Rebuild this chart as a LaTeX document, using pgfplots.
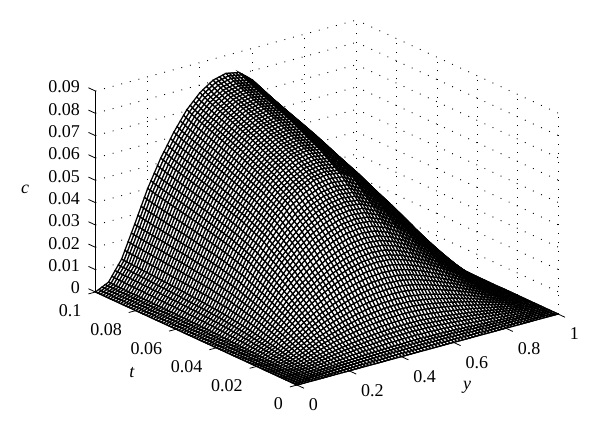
\documentclass[border=0pt]{standalone}
\usepackage{fontspec}
\setmainfont{Liberation Serif}
\usepackage{pgfplots}
\pgfplotsset{compat=1.18}
\usepgfplotslibrary{patchplots}
\pagestyle{empty}
\begin{document}
\begin{tikzpicture}[x=1pt,y=1pt]
\path[use as bounding box] (-297,-52) rectangle (303,385);
\begin{axis}[
  anchor=origin, at={(0,0)}, disabledatascaling,
  x={(261pt,71pt)}, y={(-2015pt,930pt)}, z={(0pt,2233pt)},
  xmin=0,xmax=1,ymin=0,ymax=0.1,zmin=0,zmax=0.09,
  xtick={0,0.2,0.4,0.6,0.8,1},
  ytick={0,0.02,0.04,0.06,0.08,0.1},
  ztick={0,0.01,0.02,0.03,0.04,0.05,0.06,0.07,0.08,0.09},
  xticklabels={0,0.2,0.4,0.6,0.8,1},
  yticklabels={0,0.02,0.04,0.06,0.08,0.1\hspace{-4pt}},
  zticklabels={0,0.01,0.02,0.03,0.04,0.05,0.06,0.07,0.08,0.09},
  scaled x ticks=false, scaled y ticks=false, scaled z ticks=false,
  tick label style={font=\fontsize{18}{20}\selectfont, inner sep=0pt, outer sep=0pt},
  x tick label style={anchor=west, xshift=12pt, yshift=-20pt},
  y tick label style={anchor=east, xshift=-14pt, yshift=-19pt},
  z tick label style={anchor=east, xshift=-15.5pt, yshift=4pt},
  grid=major,
  major grid style={black, line width=0.9pt, dash pattern=on 0.9pt off 8pt},
  axis line style={draw=none},
  major tick length=0pt,
  major tick style={draw=none},
  clip=false,
  colormap={bw}{color(0)=(white) color(1)=(white)},
]
\addplot3[surf, shader=faceted, faceted color=black, line width=1.25pt,
  mesh/rows=21, mesh/cols=21, mesh/ordering=x varies,
  patch type=bilinear, patch refines=2]
 table[header=false, x expr={mod(\coordindex,21)/20}, y expr={floor((\coordindex+0.5)/21)*0.005}, z index=0] {
0
0
0
0
0
0
0
0
0
0
0
0
0
0
0
0
0
0
0
0
0
0
0.0001
0.0003
0.0008
0.0012
0.0016
0.0019
0.0021
0.0023
0.0024
0.0025
0.0024
0.0023
0.0021
0.0018
0.0015
0.0012
0.0009
0.0005
0.0002
0
0
0.0003
0.0010
0.0023
0.0036
0.0047
0.0056
0.0063
0.0069
0.0072
0.0074
0.0073
0.0068
0.0062
0.0054
0.0046
0.0036
0.0026
0.0016
0.0006
0
0
0.0005
0.0020
0.0043
0.0068
0.0088
0.0105
0.0120
0.0130
0.0137
0.0139
0.0137
0.0129
0.0117
0.0103
0.0087
0.0069
0.0049
0.0030
0.0012
0
0
0.0007
0.0030
0.0066
0.0104
0.0135
0.0161
0.0183
0.0199
0.0209
0.0213
0.0210
0.0198
0.0179
0.0157
0.0133
0.0105
0.0075
0.0046
0.0018
0
0
0.0010
0.0040
0.0089
0.0140
0.0182
0.0217
0.0247
0.0268
0.0282
0.0287
0.0283
0.0266
0.0242
0.0212
0.0179
0.0142
0.0102
0.0061
0.0025
0
0
0.0012
0.0049
0.0110
0.0172
0.0224
0.0267
0.0303
0.0329
0.0346
0.0353
0.0347
0.0327
0.0297
0.0260
0.0219
0.0174
0.0125
0.0075
0.0030
0
0
0.0014
0.0059
0.0130
0.0204
0.0265
0.0316
0.0360
0.0390
0.0411
0.0418
0.0412
0.0388
0.0352
0.0309
0.0260
0.0207
0.0148
0.0089
0.0036
0
0
0.0016
0.0067
0.0148
0.0232
0.0302
0.0360
0.0409
0.0444
0.0467
0.0476
0.0469
0.0441
0.0400
0.0351
0.0296
0.0235
0.0168
0.0102
0.0041
0
0
0.0018
0.0074
0.0163
0.0256
0.0333
0.0397
0.0451
0.0490
0.0515
0.0525
0.0517
0.0486
0.0442
0.0387
0.0326
0.0259
0.0186
0.0112
0.0045
0
0
0.0020
0.0081
0.0179
0.0280
0.0364
0.0434
0.0494
0.0536
0.0564
0.0574
0.0566
0.0532
0.0483
0.0424
0.0357
0.0284
0.0203
0.0123
0.0049
0
0
0.0021
0.0085
0.0189
0.0296
0.0385
0.0459
0.0522
0.0566
0.0596
0.0607
0.0598
0.0562
0.0511
0.0448
0.0377
0.0300
0.0215
0.0130
0.0052
0
0
0.0022
0.0090
0.0199
0.0312
0.0406
0.0484
0.0550
0.0597
0.0628
0.0640
0.0630
0.0593
0.0538
0.0472
0.0398
0.0316
0.0226
0.0137
0.0055
0
0
0.0023
0.0093
0.0207
0.0324
0.0421
0.0502
0.0571
0.0620
0.0652
0.0664
0.0654
0.0616
0.0559
0.0490
0.0413
0.0328
0.0235
0.0142
0.0057
0
0
0.0024
0.0097
0.0214
0.0336
0.0437
0.0521
0.0592
0.0643
0.0676
0.0689
0.0679
0.0638
0.0580
0.0508
0.0428
0.0340
0.0244
0.0147
0.0059
0
0
0.0024
0.0100
0.0222
0.0348
0.0452
0.0539
0.0613
0.0666
0.0700
0.0713
0.0703
0.0661
0.0600
0.0526
0.0444
0.0352
0.0252
0.0152
0.0061
0
0
0.0025
0.0103
0.0228
0.0358
0.0465
0.0555
0.0631
0.0685
0.0720
0.0734
0.0723
0.0680
0.0618
0.0541
0.0456
0.0362
0.0260
0.0157
0.0063
0
0
0.0026
0.0106
0.0235
0.0368
0.0478
0.0570
0.0649
0.0704
0.0741
0.0754
0.0743
0.0699
0.0635
0.0557
0.0469
0.0373
0.0267
0.0161
0.0064
0
0
0.0026
0.0109
0.0241
0.0378
0.0491
0.0586
0.0666
0.0723
0.0761
0.0775
0.0764
0.0718
0.0652
0.0572
0.0482
0.0383
0.0274
0.0165
0.0066
0
0
0.0027
0.0112
0.0247
0.0388
0.0504
0.0601
0.0684
0.0742
0.0781
0.0795
0.0784
0.0737
0.0669
0.0587
0.0495
0.0393
0.0281
0.0170
0.0068
0
0
0.0028
0.0115
0.0255
0.0400
0.0520
0.0620
0.0705
0.0765
0.0805
0.0820
0.0808
0.0760
0.0690
0.0605
0.0510
0.0405
0.0290
0.0175
0.0070
0
};
\draw[black,line width=0.9pt] (axis cs:0,0.1,0)--(axis cs:0,0.1,0.09);
\draw[black,line width=0.9pt] (axis cs:0,0.1,0)--(axis cs:0,0,0)--(axis cs:1,0,0);
\pgfplotsinvokeforeach{0,0.2,0.4,0.6,0.8,1}{\draw[black,line width=0.8pt] (axis cs:#1,0,0)--(axis cs:#1,-0.0035,0);}
\pgfplotsinvokeforeach{0,0.02,0.04,0.06,0.08,0.1}{\draw[black,line width=0.8pt] (axis cs:0,#1,0)--(axis cs:-0.027,#1,0);}
\pgfplotsinvokeforeach{0,0.01,0.02,0.03,0.04,0.05,0.06,0.07,0.08,0.09}{\draw[black,line width=0.8pt] (axis cs:0,0.1,#1)--(axis cs:0,0.1035,#1);}
\end{axis}
\node[font=\fontsize{18}{20}\selectfont\itshape] at (-272,196) {c};
\node[font=\fontsize{18}{20}\selectfont\itshape] at (-165,12) {t};
\node[font=\fontsize{18}{20}\selectfont\itshape] at (170,-2) {y};
\end{tikzpicture}
\end{document}
